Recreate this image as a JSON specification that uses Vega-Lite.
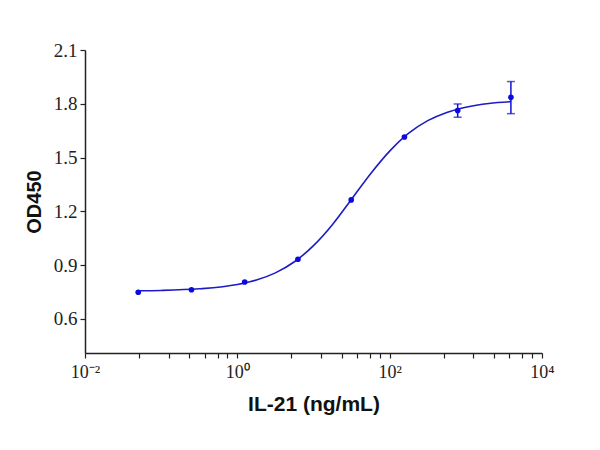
{
  "$schema": "https://vega.github.io/schema/vega-lite/v6.json",
  "width": 457,
  "height": 303,
  "autosize": {"type": "none"},
  "padding": {"left": 85, "top": 50, "right": 58, "bottom": 97},
  "background": "white",
  "config": {"view": {"stroke": null}},
  "datasets": {
    "pts": [
      {"conc": 0.05, "od": 0.749},
      {"conc": 0.25, "od": 0.763},
      {"conc": 1.25, "od": 0.806},
      {"conc": 6.25, "od": 0.933},
      {"conc": 31.25, "od": 1.264},
      {"conc": 156.25, "od": 1.615},
      {"conc": 781.25, "od": 1.762, "lo": 1.725, "hi": 1.799},
      {"conc": 3906.25, "od": 1.836, "lo": 1.745, "hi": 1.924}
    ],
    "curve": [
      {"conc": 0.05, "od": 0.757},
      {"conc": 0.1, "od": 0.759},
      {"conc": 0.316, "od": 0.768},
      {"conc": 1, "od": 0.792},
      {"conc": 1.78, "od": 0.817},
      {"conc": 3.16, "od": 0.857},
      {"conc": 5.62, "od": 0.919},
      {"conc": 10, "od": 1.009},
      {"conc": 17.8, "od": 1.127},
      {"conc": 31.6, "od": 1.268},
      {"conc": 56.2, "od": 1.41},
      {"conc": 100, "od": 1.536},
      {"conc": 178, "od": 1.636},
      {"conc": 316, "od": 1.706},
      {"conc": 562, "od": 1.752},
      {"conc": 1000, "od": 1.781},
      {"conc": 2000, "od": 1.802},
      {"conc": 3906, "od": 1.812}
    ]
  },
  "encoding": {
    "x": {
      "field": "conc", "type": "quantitative",
      "scale": {"type": "log", "domain": [0.01, 10000], "nice": false},
      "axis": {
        "title": "IL-21 (ng/mL)",
        "values": [0.01, 0.051, 0.126, 0.234, 0.372, 0.55, 0.74, 1, 5.1, 12.6, 23.4, 37.2, 55, 74, 100, 510, 1260, 2340, 3720, 5500, 7400, 10000],
        "labelExpr": "datum.value == 0.01 ? '10⁻²' : datum.value == 1 ? '10⁰' : datum.value == 100 ? '10²' : datum.value == 10000 ? '10⁴' : ''",
        "grid": false,
        "domainColor": "#222222", "domainWidth": 1.5,
        "tickColor": "#222222", "tickWidth": 1.2, "tickSize": 5,
        "labelFont": "Liberation Serif", "labelFontSize": 18, "labelColor": "#222222",
        "labelPadding": 5, "labelFlush": false, "labelOverlap": false,
        "titleFont": "Liberation Sans", "titleFontSize": 21, "titleFontWeight": "bold", "titleColor": "#111111",
        "titlePadding": 12
      }
    },
    "y": {
      "field": "od", "type": "quantitative",
      "scale": {"domain": [0.41, 2.1], "nice": false, "zero": false},
      "axis": {
        "title": "OD450",
        "values": [0.6, 0.9, 1.2, 1.5, 1.8, 2.1],
        "format": ".1f",
        "grid": false,
        "domainColor": "#222222", "domainWidth": 1.5,
        "tickColor": "#222222", "tickWidth": 1.2, "tickSize": 5,
        "labelFont": "Liberation Serif", "labelFontSize": 19, "labelColor": "#222222",
        "labelPadding": 3,
        "titleFont": "Liberation Sans", "titleFontSize": 20, "titleFontWeight": "bold", "titleColor": "#111111",
        "titlePadding": 9
      }
    }
  },
  "layer": [
    {
      "data": {"name": "curve"},
      "mark": {"type": "line", "color": "#1c1cc4", "strokeWidth": 1.6, "interpolate": "monotone"}
    },
    {
      "data": {"name": "pts"},
      "transform": [{"filter": "isValid(datum.lo)"}],
      "mark": {"type": "rule", "color": "#1010d0", "strokeWidth": 1.5},
      "encoding": {"y": {"field": "lo", "type": "quantitative"}, "y2": {"field": "hi"}}
    },
    {
      "data": {"name": "pts"},
      "transform": [{"filter": "isValid(datum.lo)"}],
      "mark": {"type": "tick", "orient": "horizontal", "color": "#1010d0", "size": 8, "thickness": 1.5},
      "encoding": {"y": {"field": "lo", "type": "quantitative"}}
    },
    {
      "data": {"name": "pts"},
      "transform": [{"filter": "isValid(datum.hi)"}],
      "mark": {"type": "tick", "orient": "horizontal", "color": "#1010d0", "size": 8, "thickness": 1.5},
      "encoding": {"y": {"field": "hi", "type": "quantitative"}}
    },
    {
      "data": {"name": "pts"},
      "mark": {"type": "point", "filled": true, "color": "#0a0ae0", "size": 32, "opacity": 1}
    }
  ]
}
